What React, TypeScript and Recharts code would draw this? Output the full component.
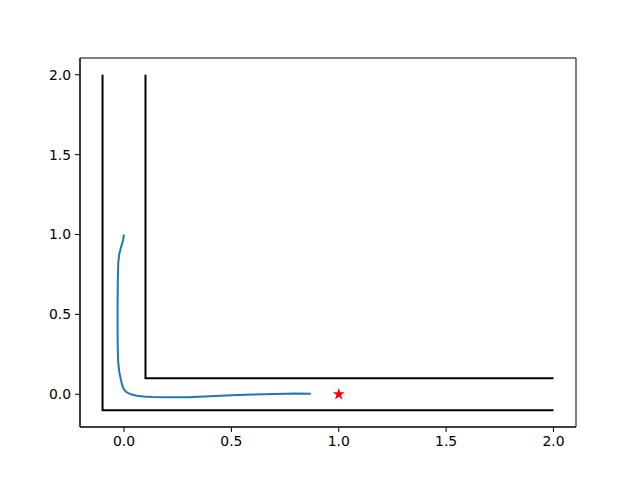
import { ComposedChart, ReferenceArea, Scatter, Symbols, XAxis, YAxis } from 'recharts'

// walls (corridor corner)
const outerWallX = [-0.1, -0.1, 2.0]
const outerWallY = [2.0, -0.1, -0.1]
const innerWallX = [0.1, 0.1, 2.0]
const innerWallY = [2.0, 0.1, 0.1]

// trajectory
const pathX = [0, -0.005, -0.012, -0.022, -0.027, -0.029, -0.03, -0.03, -0.029, -0.027, -0.022, -0.016, -0.01, -0.003, 0.006, 0.018, 0.035, 0.06, 0.09, 0.13, 0.2, 0.3, 0.4, 0.5, 0.6, 0.7, 0.8, 0.87]
const pathY = [1.0, 0.96, 0.93, 0.88, 0.82, 0.7, 0.55, 0.4, 0.28, 0.2, 0.14, 0.1, 0.065, 0.038, 0.02, 0.008, -0.002, -0.009, -0.014, -0.017, -0.019, -0.018, -0.013, -0.007, -0.002, 0.002, 0.004, 0.003]

const goalX = [1.0]
const goalY = [0.0]

const xTicks = [0, 0.5, 1, 1.5, 2]
const yTicks = [0, 0.5, 1, 1.5, 2]

const lim: [number, number] = [-0.205, 2.105]

const toPoints = (xs: number[], ys: number[]) => xs.map((x, i) => ({ x, y: ys[i] }))

const font = { fontFamily: 'DejaVu Sans', fontSize: 13.9, fill: '#000' }
const noShape = () => <g />
const starShape = (props: any) => <Symbols cx={props.cx} cy={props.cy} type={'star'} size={45} fill={'#ff0000'} />

const App = () => {
    return (
        <div style={{ position: 'absolute', left: 0, top: 0, background: '#fff' }}>
            <ComposedChart width={640} height={480} margin={{ top: 58, right: 64, bottom: 0, left: 0 }}>
                <XAxis
                    dataKey={'x'}
                    type={'number'}
                    domain={lim}
                    ticks={xTicks}
                    tickFormatter={v => v.toFixed(1)}
                    allowDataOverflow
                    height={53}
                    stroke={'#000'}
                    tickSize={5}
                    tickMargin={4}
                    tick={font}
                />
                <YAxis
                    dataKey={'y'}
                    type={'number'}
                    domain={lim}
                    ticks={yTicks}
                    tickFormatter={v => v.toFixed(1)}
                    allowDataOverflow
                    width={80}
                    stroke={'#000'}
                    tickSize={5}
                    tickMargin={4}
                    tick={font}
                />
                <ReferenceArea x1={lim[0]} x2={lim[1]} y1={lim[0]} y2={lim[1]} fill={'none'} stroke={'#000'} strokeWidth={1} ifOverflow={'visible'} />
                <Scatter
                    data={toPoints(outerWallX, outerWallY)}
                    line={{ stroke: '#000', strokeWidth: 2 }}
                    lineType={'joint'}
                    shape={noShape}
                    isAnimationActive={false}
                />
                <Scatter
                    data={toPoints(innerWallX, innerWallY)}
                    line={{ stroke: '#000', strokeWidth: 2 }}
                    lineType={'joint'}
                    shape={noShape}
                    isAnimationActive={false}
                />
                <Scatter
                    data={toPoints(pathX, pathY)}
                    line={{ stroke: '#1f77b4', strokeWidth: 2 }}
                    lineType={'joint'}
                    shape={noShape}
                    isAnimationActive={false}
                />
                <Scatter data={toPoints(goalX, goalY)} shape={starShape} fill={'#ff0000'} isAnimationActive={false} />
            </ComposedChart>
        </div>
    )
}

export default App
